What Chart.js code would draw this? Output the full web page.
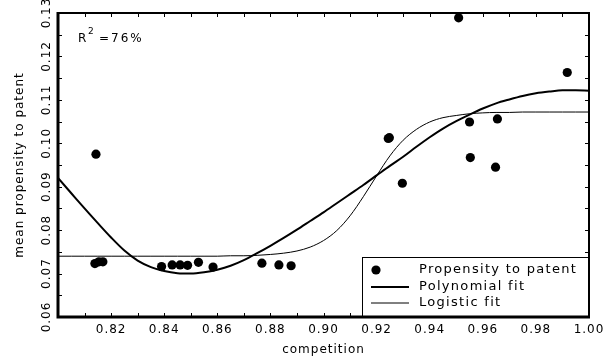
<!DOCTYPE html>
<html>
<head>
<meta charset="utf-8">
<script src="https://cdn.jsdelivr.net/npm/chart.js@4"></script>
<style>
  html, body { margin: 0; padding: 0; background: #fff; }
  #wrap { width: 616px; height: 362px; }
</style>
</head>
<body>
<div id="wrap"><canvas id="chart"></canvas></div>
<script>
"use strict";

// observed points (competition, mean propensity to patent)
const pointX = [0.8143, 0.8139, 0.8154, 0.8169, 0.8390, 0.8430, 0.8460, 0.8488, 0.8529, 0.8584,
  0.8768, 0.8832, 0.8878, 0.9244, 0.9248, 0.9297, 0.9509, 0.9550, 0.9553, 0.9648, 0.9655, 0.9918];
const pointY = [0.0975, 0.0723, 0.0727, 0.0727, 0.0716, 0.0720, 0.0720, 0.0719, 0.0726, 0.0715,
  0.0724, 0.0720, 0.0718, 0.1011, 0.1013, 0.0908, 0.1289, 0.1049, 0.0967, 0.0945, 0.1056, 0.1163];

// fitted curves
const fitX = [0.800, 0.805, 0.810, 0.815, 0.820, 0.825, 0.830, 0.835, 0.840, 0.845,
  0.850, 0.855, 0.860, 0.865, 0.870, 0.875, 0.880, 0.885, 0.890, 0.895,
  0.900, 0.905, 0.910, 0.915, 0.920, 0.925, 0.930, 0.935, 0.940, 0.945,
  0.950, 0.955, 0.960, 0.965, 0.970, 0.975, 0.980, 0.985, 0.990, 0.995, 1.000];
const polyY = [0.0920, 0.0885, 0.0850, 0.0816, 0.0783, 0.0753, 0.0730, 0.0715, 0.0706, 0.0701,
  0.0700, 0.0703, 0.0709, 0.0718, 0.0731, 0.0747, 0.0764, 0.0782, 0.0801, 0.0821,
  0.0841, 0.0862, 0.0883, 0.0904, 0.0926, 0.0948, 0.0969, 0.0992, 0.1014, 0.1034,
  0.1051, 0.1066, 0.1080, 0.1092, 0.1101, 0.1109, 0.1115, 0.1119, 0.1122, 0.1122, 0.1121];
const logisticY = [0.0740, 0.0740, 0.0740, 0.0740, 0.0740, 0.0740, 0.0740, 0.0740, 0.0740, 0.0740,
  0.0740, 0.0740, 0.0740, 0.0741, 0.0741, 0.0742, 0.0744, 0.0747, 0.0752, 0.0761,
  0.0776, 0.0799, 0.0833, 0.0877, 0.0925, 0.0971, 0.1007, 0.1032, 0.1049, 0.1059,
  0.1064, 0.1068, 0.1070, 0.1071, 0.1071, 0.1072, 0.1072, 0.1072, 0.1072, 0.1072, 0.1072];

const xTickValues = [0.82, 0.84, 0.86, 0.88, 0.90, 0.92, 0.94, 0.96, 0.98, 1.00];
const xTickLabels = ["0.82", "0.84", "0.86", "0.88", "0.90", "0.92", "0.94", "0.96", "0.98", "1.00"];
const yTickValues = [0.06, 0.07, 0.08, 0.09, 0.10, 0.11, 0.12, 0.13];
const yTickLabels = ["0.06", "0.07", "0.08", "0.09", "0.10", "0.11", "0.12", "0.13"];

const rSquaredText = "76%";

function toXY(xs, ys) {
  const out = [];
  for (let i = 0; i < xs.length; i++) {
    out.push({ x: xs[i], y: ys[i] });
  }
  return out;
}

const fontFamily = "'DejaVu Sans', sans-serif";
const tickLen = 4;

const spacing = {
  id: "spacing",
  beforeDraw(chart) {
    chart.ctx.letterSpacing = "1px";
  }
};

const frameAndLegend = {
  id: "frameAndLegend",
  afterDraw(chart) {
    const ctx = chart.ctx;
    const area = chart.chartArea;
    const xs = chart.scales.x;
    const ys = chart.scales.y;
    ctx.save();
    ctx.strokeStyle = "#000";
    ctx.fillStyle = "#000";

    // inward ticks on all four sides
    ctx.lineWidth = 1;
    ctx.beginPath();
    for (let i = 1; i < 20; i++) {
      const px = Math.round(xs.getPixelForValue(0.8 + i * 0.01)) + 0.5;
      ctx.moveTo(px, area.bottom);
      ctx.lineTo(px, area.bottom - tickLen);
      ctx.moveTo(px, area.top);
      ctx.lineTo(px, area.top + tickLen);
    }
    for (let i = 1; i < 14; i++) {
      const py = Math.round(ys.getPixelForValue(0.06 + i * 0.005)) + 0.5;
      ctx.moveTo(area.left, py);
      ctx.lineTo(area.left + tickLen, py);
      ctx.moveTo(area.right, py);
      ctx.lineTo(area.right - tickLen, py);
    }
    ctx.stroke();

    // legend box in the lower right corner
    const bx = 362, by = 257;
    ctx.fillStyle = "#fff";
    ctx.fillRect(bx, by, area.right - bx, area.bottom - by);
    ctx.lineWidth = 1;
    ctx.strokeRect(bx + 0.5, by + 0.5, area.right - bx, area.bottom - by);

    ctx.fillStyle = "#000";
    ctx.font = "13px " + fontFamily;
    ctx.letterSpacing = "1.3px";
    ctx.textAlign = "left";
    ctx.textBaseline = "middle";
    const rows = [270, 287, 303];
    chart.data.datasets.forEach(function (ds, i) {
      const y = rows[i];
      if (ds.showLine) {
        ctx.lineWidth = ds.borderWidth;
        ctx.beginPath();
        ctx.moveTo(371, y);
        ctx.lineTo(409, y);
        ctx.stroke();
      } else {
        ctx.beginPath();
        ctx.arc(376, y, ds.pointRadius, 0, Math.PI * 2);
        ctx.fill();
      }
      ctx.fillText(ds.label, 419, y);
    });

    // frame: top/right thinner, left/bottom heavier
    ctx.lineWidth = 2;
    ctx.strokeRect(area.left, area.top, area.right - area.left, area.bottom - area.top);
    ctx.lineWidth = 3;
    ctx.beginPath();
    ctx.moveTo(area.left, area.top - 1);
    ctx.lineTo(area.left, area.bottom);
    ctx.lineTo(area.right + 1, area.bottom);
    ctx.stroke();

    // R squared note
    ctx.textBaseline = "alphabetic";
    ctx.letterSpacing = "0px";
    ctx.font = "12px " + fontFamily;
    ctx.fillText("R", 78, 42);
    ctx.font = "9px " + fontFamily;
    ctx.fillText("2", 88, 34);
    ctx.font = "12px " + fontFamily;
    ctx.letterSpacing = "2px";
    ctx.fillText("=" + rSquaredText, 99, 42);
    ctx.restore();
  }
};

const config = {
  type: "scatter",
  data: {
    datasets: [
      {
        label: "Propensity to patent",
        data: toXY(pointX, pointY),
        backgroundColor: "#000",
        borderWidth: 0,
        pointRadius: 4.6,
        showLine: false,
      },
      {
        label: "Polynomial fit",
        data: toXY(fitX, polyY),
        borderColor: "#000",
        borderWidth: 2,
        pointRadius: 0,
        showLine: true,
        cubicInterpolationMode: "monotone",
      },
      {
        label: "Logistic fit",
        data: toXY(fitX, logisticY),
        borderColor: "#000",
        borderWidth: 1,
        pointRadius: 0,
        showLine: true,
        cubicInterpolationMode: "monotone",
      },
    ],
  },
  options: {
    responsive: false,
    animation: false,
    devicePixelRatio: 1,
    layout: { padding: { top: 13, right: 27, left: 0, bottom: 0 } },
    plugins: {
      legend: { display: false },
      tooltip: { enabled: false },
    },
    scales: {
      x: {
        type: "linear",
        min: 0.8,
        max: 1.0,
        afterBuildTicks(scale) {
          scale.ticks = xTickValues.map(function (v) { return { value: v }; });
        },
        afterFit(scale) { scale.height = 45; },
        grid: { display: false, drawTicks: false },
        border: { display: false },
        ticks: {
          color: "#000",
          padding: 6,
          maxRotation: 0,
          autoSkip: false,
          font: { family: fontFamily, size: 12 },
          callback(value, index) { return xTickLabels[index]; },
        },
        title: {
          display: true,
          text: "competition",
          color: "#000",
          padding: { top: 0, bottom: 5 },
          font: { family: fontFamily, size: 12 },
        },
      },
      y: {
        type: "linear",
        min: 0.06,
        max: 0.13,
        afterBuildTicks(scale) {
          scale.ticks = yTickValues.map(function (v) { return { value: v }; });
        },
        afterFit(scale) { scale.width = 58; },
        grid: { display: false, drawTicks: false },
        border: { display: false },
        ticks: {
          color: "#000",
          padding: -2,
          minRotation: 90,
          maxRotation: 90,
          crossAlign: "center",
          autoSkip: false,
          font: { family: fontFamily, size: 12 },
          callback(value, index) { return yTickLabels[index]; },
        },
        title: {
          display: true,
          text: "mean propensity to patent",
          color: "#000",
          padding: { top: 13, bottom: 0 },
          font: { family: fontFamily, size: 12 },
        },
      },
    },
  },
  plugins: [spacing, frameAndLegend],
};

const canvas = document.getElementById("chart");
canvas.width = 616;
canvas.height = 362;
const myChart = new Chart(canvas, config);
</script>
</body>
</html>
